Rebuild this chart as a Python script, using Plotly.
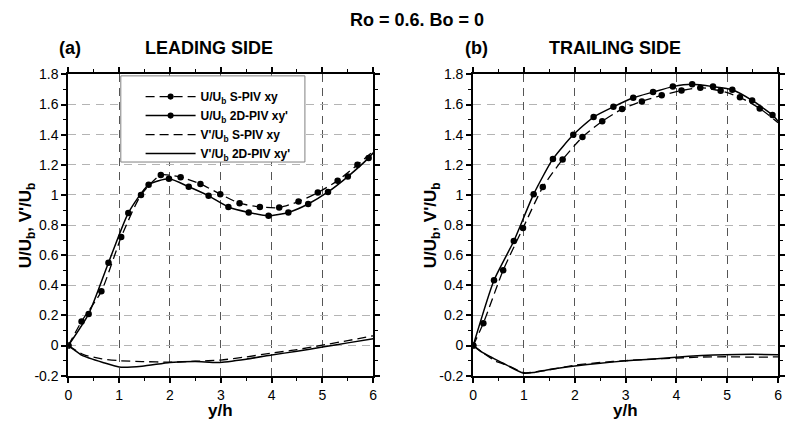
import plotly.graph_objects as go

W, H = 787, 428

# ---------------- data ----------------
# (a) Leading side
lead_u_spiv_x = [0, 0.26, 0.65, 1.04, 1.43, 1.82, 2.21, 2.60, 2.99, 3.37, 3.77, 4.15, 4.53, 4.91, 5.30, 5.69, 6.0]
lead_u_spiv_y = [0, 0.16, 0.36, 0.72, 1.00, 1.133, 1.118, 1.073, 1.005, 0.945, 0.92, 0.916, 0.956, 1.016, 1.095, 1.20, 1.29]

lead_u_2d_x = [0, 0.40, 0.79, 1.18, 1.58, 1.98, 2.37, 2.76, 3.15, 3.55, 3.94, 4.33, 4.72, 5.11, 5.50, 5.91, 6.0]
lead_u_2d_y = [0, 0.21, 0.55, 0.88, 1.067, 1.107, 1.054, 0.994, 0.92, 0.884, 0.862, 0.884, 0.94, 1.02, 1.122, 1.246, 1.28]

lead_v_spiv_x = [0, 0.3, 0.66, 1.0, 1.45, 2.0, 2.5, 3.0, 3.5, 4.0, 4.5, 5.0, 5.5, 6.0]
lead_v_spiv_y = [0, -0.06, -0.088, -0.1, -0.106, -0.11, -0.104, -0.096, -0.075, -0.05, -0.027, 0.003, 0.033, 0.065]

lead_v_2d_x = [0, 0.1, 0.27, 0.68, 1.0, 1.45, 2.0, 2.5, 2.95, 3.5, 4.0, 4.5, 5.0, 5.5, 6.0]
lead_v_2d_y = [0, -0.025, -0.065, -0.112, -0.142, -0.137, -0.112, -0.105, -0.112, -0.09, -0.063, -0.037, -0.01, 0.018, 0.045]

# (b) Trailing side
trail_u_spiv_x = [0, 0.20, 0.59, 0.98, 1.37, 1.76, 2.15, 2.54, 2.93, 3.32, 3.71, 4.10, 4.47, 4.87, 5.25, 5.64, 6.0]
trail_u_spiv_y = [0, 0.149, 0.50, 0.78, 1.052, 1.235, 1.384, 1.489, 1.57, 1.621, 1.661, 1.693, 1.712, 1.691, 1.648, 1.574, 1.48]

trail_u_2d_x = [0, 0.41, 0.80, 1.19, 1.57, 1.97, 2.37, 2.76, 3.15, 3.54, 3.93, 4.31, 4.72, 5.10, 5.49, 5.89, 6.0]
trail_u_2d_y = [0, 0.434, 0.694, 1.005, 1.239, 1.399, 1.517, 1.585, 1.645, 1.683, 1.719, 1.734, 1.719, 1.698, 1.627, 1.531, 1.49]

trail_v_spiv_x = [0, 0.2, 0.44, 0.7, 1.0, 1.3, 2.0, 2.5, 3.0, 3.5, 4.0, 4.5, 5.0, 5.5, 6.0]
trail_v_spiv_y = [0, -0.05, -0.103, -0.135, -0.18, -0.172, -0.13, -0.112, -0.1, -0.09, -0.083, -0.076, -0.074, -0.077, -0.075]

trail_v_2d_x = [0, 0.18, 0.57, 0.99, 1.2, 1.5, 2.0, 2.5, 2.95, 3.5, 3.99, 4.5, 4.95, 5.5, 6.0]
trail_v_2d_y = [0, -0.045, -0.114, -0.183, -0.178, -0.158, -0.135, -0.117, -0.103, -0.09, -0.077, -0.066, -0.06, -0.058, -0.06]

y_tick_vals = [-0.2, 0, 0.2, 0.4, 0.6, 0.8, 1.0, 1.2, 1.4, 1.6, 1.8]
y_tick_text = ["-0.2", "0", "0.2", "0.4", "0.6", "0.8", "1", "1.2", "1.4", "1.6", "1.8"]
x_tick_vals = [0, 1, 2, 3, 4, 5, 6]
x_tick_text = ["0", "1", "2", "3", "4", "5", "6"]

legend_names = [
    "<b>U/U<sub>b</sub> S-PIV xy</b>",
    "<b>U/U<sub>b</sub> 2D-PIV xy'</b>",
    "<b>V'/U<sub>b</sub> S-PIV xy</b>",
    "<b>V'/U<sub>b</sub> 2D-PIV xy'</b>",
]

# ---------------- figure ----------------
FONT = "Arial, Liberation Sans, sans-serif"
DASH = "9px,5px"
fig = go.Figure()


def sizes(xs, s=6.5):
    # no marker at the curve end (x = 6)
    return [s if x < 5.99 else 0 for x in xs]


def add_panel(xa, ya, u_s, u_2, v_s, v_2, show):
    common = dict(xaxis=xa, yaxis=ya, line_shape="spline")
    mk = lambda xs: dict(color="black", size=sizes(xs), opacity=1, line=dict(width=0))
    fig.add_trace(go.Scatter(x=u_s[0], y=u_s[1], mode="lines+markers", name=legend_names[0],
                             line=dict(color="black", width=1.3, dash=DASH, smoothing=0.6),
                             marker=mk(u_s[0]), showlegend=show, **common))
    fig.add_trace(go.Scatter(x=u_2[0], y=u_2[1], mode="lines+markers", name=legend_names[1],
                             line=dict(color="black", width=1.5, smoothing=0.6),
                             marker=mk(u_2[0]), showlegend=show, **common))
    fig.add_trace(go.Scatter(x=v_s[0], y=v_s[1], mode="lines", name=legend_names[2],
                             line=dict(color="black", width=1.3, dash=DASH, smoothing=0.6),
                             showlegend=show, **common))
    fig.add_trace(go.Scatter(x=v_2[0], y=v_2[1], mode="lines", name=legend_names[3],
                             line=dict(color="black", width=1.5, smoothing=0.6),
                             showlegend=show, **common))


add_panel("x", "y", (lead_u_spiv_x, lead_u_spiv_y), (lead_u_2d_x, lead_u_2d_y),
          (lead_v_spiv_x, lead_v_spiv_y), (lead_v_2d_x, lead_v_2d_y), True)
add_panel("x2", "y2", (trail_u_spiv_x, trail_u_spiv_y), (trail_u_2d_x, trail_u_2d_y),
          (trail_v_spiv_x, trail_v_spiv_y), (trail_v_2d_x, trail_v_2d_y), False)


def px(p):
    return p / W


def py(p):
    return 1 - p / H


xcommon = dict(range=[0, 6], tickmode="array", tickvals=x_tick_vals, ticktext=x_tick_text,
               showgrid=True, gridcolor="#555555", griddash="8px,6px", gridwidth=1,
               showline=True, linecolor="black", linewidth=2, mirror="allticks",
               ticks="outside", ticklen=5, tickwidth=1.5, tickcolor="black",
               minor=dict(tickmode="linear", tick0=0, dtick=0.5, ticks="outside", ticklen=3,
                          tickwidth=1, tickcolor="black", showgrid=False),
               zeroline=False, tickfont=dict(family=FONT, size=14, color="black"))
ycommon = dict(range=[-0.2, 1.8], tickmode="array", tickvals=y_tick_vals, ticktext=y_tick_text,
               showgrid=True, gridcolor="#b4b4b4", griddash="8px,6px", gridwidth=1,
               showline=True, linecolor="black", linewidth=2, mirror="allticks",
               ticks="outside", ticklen=5, tickwidth=1.5, tickcolor="black",
               minor=dict(tickmode="linear", tick0=0, dtick=0.1, ticks="outside", ticklen=3,
                          tickwidth=1, tickcolor="black", showgrid=False),
               zeroline=False, tickfont=dict(family=FONT, size=14, color="black"))

ydom = [py(382), py(69)]
fig.update_layout(
    width=W, height=H,
    margin=dict(l=0, r=0, t=0, b=0),
    paper_bgcolor="white", plot_bgcolor="white",
    font=dict(family=FONT, color="black"),
    xaxis=dict(domain=[px(65), px(373)], anchor="y", **xcommon),
    yaxis=dict(domain=ydom, anchor="x", **ycommon),
    xaxis2=dict(domain=[px(474), px(782)], anchor="y2", **xcommon),
    yaxis2=dict(domain=ydom, anchor="x2", **ycommon),
    legend=dict(x=px(138), y=py(77), xanchor="left", yanchor="top",
                bgcolor="rgba(0,0,0,0)", borderwidth=0, itemwidth=50, tracegroupgap=0,
                font=dict(family=FONT, size=12, color="black")),
    shapes=[dict(type="rect", xref="paper", yref="paper",
                 x0=px(118), x1=px(304), y0=py(160), y1=py(70.5),
                 fillcolor="white", line=dict(color="#808080", width=1), layer="above")],
)

ann = []


def text(x, y, s, size, angle=0):
    ann.append(dict(x=px(x), y=py(y), xref="paper", yref="paper", text=s, showarrow=False,
                    xanchor="center", yanchor="middle", textangle=angle,
                    font=dict(family=FONT, size=size, color="black")))


text(417, 12, "<b>Ro = 0.6. Bo = 0</b>", 18)
text(67, 42, "<b>(a)</b>", 18)
text(207, 42, "<b>LEADING SIDE</b>", 18)
text(477, 42, "<b>(b)</b>", 18)
text(617, 42, "<b>TRAILING SIDE</b>", 18)
text(219, 418, "<b>y/h</b>", 17)
text(628, 418, "<b>y/h</b>", 17)
text(23, 226, "<b>U/U<sub>b</sub>, V'/U<sub>b</sub></b>", 17, -90)
text(432, 226, "<b>U/U<sub>b</sub>, V'/U<sub>b</sub></b>", 17, -90)
fig.update_layout(annotations=ann)

fig.write_html("out.html")
